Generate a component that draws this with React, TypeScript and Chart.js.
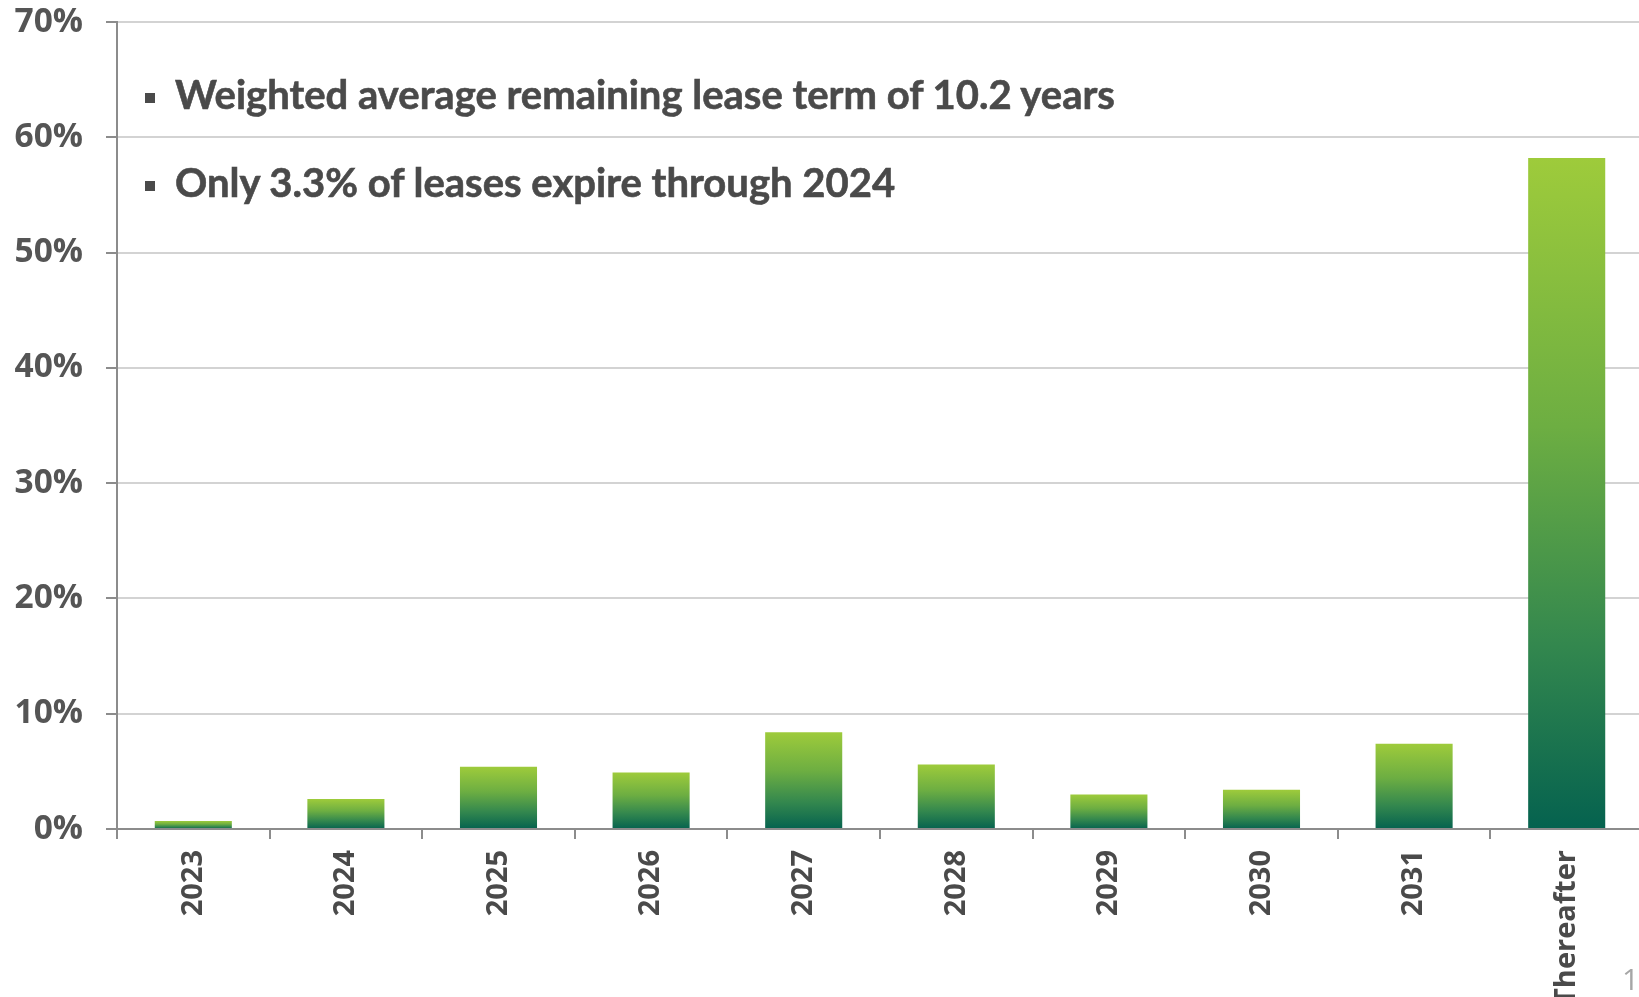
import React, { useEffect, useRef } from "react";
import { Chart, registerables } from "chart.js";

Chart.register(...registerables);

const categories = ["2023", "2024", "2025", "2026", "2027", "2028", "2029", "2030", "2031", "Thereafter"];
const expiringShare = [0.7, 2.6, 5.4, 4.9, 8.4, 5.6, 3.0, 3.4, 7.4, 58.2];
const yTicks = [0, 10, 20, 30, 40, 50, 60, 70];
const bulletPoints = [
  "Weighted average remaining lease term of 10.2 years",
  "Only 3.3% of leases expire through 2024",
];
const pageNumber = "10";

const FONT = "'Open Sans', 'Noto Sans', sans-serif";
const NOTE_FONT = "Lato, 'Open Sans', sans-serif";

export default function App() {
  const canvasRef = useRef<HTMLCanvasElement | null>(null);

  useEffect(() => {
    let chart: Chart | null = null;
    let cancelled = false;
    const build = () => {
      if (cancelled || !canvasRef.current) return;
      Chart.defaults.font.family = FONT;
      chart = new Chart(canvasRef.current, {
        type: "bar",
        data: {
          labels: categories,
          datasets: [
            {
              data: expiringShare,
              barPercentage: 0.505,
              categoryPercentage: 1,
              backgroundColor: (ctx: any) => {
                const c = ctx.chart;
                if (!c.chartArea || ctx.type !== "data") return "#4f9a45";
                const ys = c.scales.y;
                const top = ys.getPixelForValue(ctx.raw as number);
                const bottom = ys.getPixelForValue(0);
                const g = c.ctx.createLinearGradient(0, top, 0, bottom);
                g.addColorStop(0, "#9ecb3b");
                g.addColorStop(0.4, "#6dae42");
                g.addColorStop(0.72, "#34884e");
                g.addColorStop(1, "#05624f");
                return g;
              },
            },
          ],
        },
        options: {
          animation: false,
          responsive: false,
          devicePixelRatio: 1,
          layout: { padding: { left: 0, right: 17, top: 22, bottom: 0 } },
          plugins: { legend: { display: false }, tooltip: { enabled: false } },
          scales: {
            x: {
              grid: {
                offset: true,
                drawOnChartArea: false,
                drawTicks: true,
                tickLength: 10,
                color: "#8c8c8c",
                lineWidth: 2,
              },
              border: { color: "#8c8c8c", width: 2 },
              ticks: {
                autoSkip: false,
                minRotation: 90,
                maxRotation: 90,
                padding: 11,
                color: "#4a4a4a",
                font: { size: 29, weight: "bold", family: FONT },
              },
              afterFit: (scale: any) => {
                scale.height = 168;
                scale.paddingLeft = 0;
                scale.paddingRight = 0;
              },
            },
            y: {
              min: 0,
              max: 70,
              afterBuildTicks: (scale: any) => {
                scale.ticks = yTicks.map((v) => ({ value: v }));
              },
              grid: {
                color: "#d3d3d3",
                lineWidth: 2,
                tickLength: 11,
                tickColor: "#8c8c8c",
              },
              border: { color: "#8c8c8c", width: 2 },
              ticks: {
                padding: 23,
                color: "#555555",
                font: { size: 33.5, weight: "bold", family: FONT },
                callback: (v: any) => v + "%",
              },
              afterFit: (scale: any) => {
                scale.width = 117;
                scale.paddingTop = 0;
                scale.paddingBottom = 0;
              },
            },
          },
        },
      });
    };
    const fontsApi = (document as any).fonts;
    if (fontsApi && fontsApi.load) {
      Promise.all([
        fontsApi.load(`bold 32px 'Open Sans'`),
        fontsApi.load(`32px 'Open Sans'`),
        fontsApi.load(`bold 40px Lato`),
      ])
        .catch(() => null)
        .then(build);
    } else {
      build();
    }
    return () => {
      cancelled = true;
      if (chart) chart.destroy();
    };
  }, []);

  const lineTops = [74, 162];
  const bulletTops = [93, 181];

  return (
    <div
      style={{
        position: "fixed",
        left: 0,
        top: 0,
        width: 1639,
        height: 997,
        overflow: "hidden",
        background: "#ffffff",
      }}
    >
      <canvas
        ref={canvasRef}
        width={1660}
        height={997}
        style={{ position: "absolute", left: 0, top: 0, width: 1660, height: 997 }}
      />
      {bulletPoints.map((t, i) => (
        <React.Fragment key={i}>
          <div
            style={{
              position: "absolute",
              left: 145,
              top: bulletTops[i],
              width: 10,
              height: 10,
              background: "#4a4a4a",
            }}
          />
          <div
            style={{
              position: "absolute",
              left: 175,
              top: lineTops[i],
              fontFamily: NOTE_FONT,
              fontWeight: 700,
              fontSize: 40,
              lineHeight: "40px",
              color: "#4a4a4a",
              whiteSpace: "nowrap",
              WebkitTextStroke: "0.6px #4a4a4a",
            }}
          >
            {t}
          </div>
        </React.Fragment>
      ))}
      <div
        style={{
          position: "absolute",
          left: 1622,
          top: 964,
          fontFamily: FONT,
          fontSize: 30,
          lineHeight: "30px",
          color: "#a6a6a6",
          whiteSpace: "nowrap",
        }}
      >
        {pageNumber}
      </div>
    </div>
  );
}
